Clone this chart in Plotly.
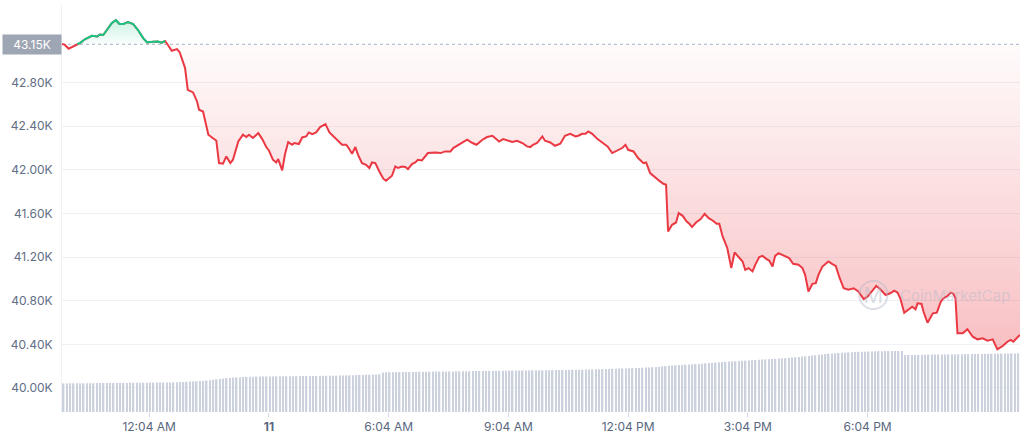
import plotly.graph_objects as go
import pandas as pd

# ---------------- data ----------------
START = "2024-01-10"
BASE_PRICE = 43150  # reference (open) price shown as dotted line

times = ["21:53","21:57","22:03","22:10","22:16","22:20","22:28","22:38","22:46","22:50",
"22:55","23:01","23:08","23:14","23:19","23:25","23:32","23:40","23:47","23:55",
"00:01","00:10","00:17","00:23","00:28","00:32","00:38","00:46","00:50","00:58",
"01:02","01:10","01:16","01:19","01:25","01:33","01:40","01:45","01:49","01:55",
"02:00","02:06","02:10","02:18","02:25","02:30","02:34","02:40","02:48",
"02:54","03:00","03:04","03:10","03:15","03:18","03:24","03:28","03:33","03:39",
"03:42","03:49","03:54","04:00","04:04","04:09","04:15","04:21","04:29","04:35",
"04:41","04:48","04:54","05:00","05:03","05:09","05:14","05:18","05:24","05:30",
"05:35","05:39","05:44","05:50","05:56","06:00","06:03","06:09","06:14","06:18",
"06:24","06:29","06:33","06:39","06:44","06:48","06:54","07:03","07:14","07:22",
"07:29","07:37","07:41",
"07:49","07:56","08:02","08:10","08:16","08:25","08:32","08:40","08:44","08:50",
"08:56","09:04","09:10","09:17","09:25","09:32","09:37","09:41","09:47","09:55",
"09:59","10:07","10:14","10:22","10:29","10:37","10:45","10:49","10:55","11:00",
"11:04","11:10","11:18","11:25","11:33","11:40","11:48","11:55","12:00","12:04",
"12:12","12:19","12:27","12:31",
"12:37","12:45","12:52","12:57","13:01","13:04","13:10","13:16","13:20","13:26",
"13:32","13:36","13:40","13:46","13:53","13:59","14:05","14:11","14:17","14:21",
"14:26","14:33","14:39","14:44","14:50","14:56","15:00","15:05","15:11","15:15",
"15:21","15:26","15:32","15:36","15:41","15:45","15:50","15:56","16:00","16:06",
"16:12","16:20","16:26","16:30","16:35","16:41","16:46","16:50","16:56","17:05",
"17:11","17:16","17:22","17:28",
"17:35","17:43","17:50","17:58","18:04","18:11","18:17","18:23","18:31","18:38",
"18:44","18:49","18:53","18:59","19:05","19:11","19:16","19:19","19:25","19:28",
"19:34","19:42","19:48","19:54","19:58","20:04","20:09","20:13","20:16","20:19",
"20:27","20:34","20:42","20:49","20:57","21:04","21:12","21:19","21:27","21:34",
"21:39","21:43","21:50","21:53"]

prices = [43152,43146,43109,43130,43152,43161,43198,43228,43222,43240,
43235,43283,43345,43372,43338,43335,43354,43335,43283,43207,
43167,43173,43176,43164,43180,43146,43091,43106,43075,42932,
42733,42709,42626,42550,42534,42321,42291,42266,42061,42055,
42122,42061,42092,42259,42321,42300,42321,42291,42336,
42281,42208,42177,42092,42067,42098,41994,42137,42254,42229,
42245,42236,42296,42305,42342,42327,42342,42391,42419,42342,
42305,42259,42229,42229,42208,42147,42208,42137,42061,42046,
42016,42067,42061,41984,41918,41899,41915,41945,42030,42016,
42030,42025,42006,42052,42067,42092,42085,42153,42159,42153,
42168,42168,42199,
42229,42259,42275,42245,42229,42275,42300,42312,42291,42259,
42281,42268,42254,42266,42245,42214,42208,42229,42245,42305,
42266,42250,42220,42238,42312,42330,42305,42312,42330,42330,
42351,42330,42281,42250,42214,42153,42177,42199,42229,42183,
42168,42107,42061,42067,
41970,41924,41893,41872,41863,41435,41496,41517,41603,41578,
41526,41505,41475,41517,41548,41597,41557,41535,41505,41505,
41389,41283,41099,41242,41205,41159,41083,41099,41068,41129,
41200,41211,41181,41168,41113,41211,41236,41220,41205,41190,
41138,41129,41099,41037,40884,40955,40961,41037,41113,41159,
41135,41119,41006,40914,
40900,40914,40884,40814,40838,40892,40935,40905,40852,40868,
40892,40874,40822,40690,40721,40745,40721,40776,40770,40699,
40598,40684,40690,40791,40822,40843,40874,40862,40822,40501,
40501,40538,40470,40446,40455,40434,40446,40354,40385,40424,
40440,40424,40470,40486]

# 5-minute volume bars (billions USD), one row per hour
volume = [
28.6,28.6,28.7,28.7,28.7,28.6,28.7,28.8,28.8,28.8,28.9,28.9,
28.9,29.0,29.0,29.0,29.1,29.1,29.0,29.1,29.2,29.2,29.2,29.3,
29.3,29.3,29.4,29.4,29.4,29.5,29.5,29.6,29.6,29.7,29.8,29.9,
30.0,30.2,30.4,30.6,30.8,31.0,31.2,31.5,31.8,32.2,32.6,33.0,
33.4,33.8,34.1,34.4,34.6,34.8,35.0,35.1,35.2,35.3,35.4,35.5,
35.5,35.5,35.6,35.6,35.6,35.7,35.7,35.7,35.8,35.8,35.8,35.9,
35.9,36.0,36.0,36.0,36.1,36.1,36.2,36.2,36.3,36.3,36.4,36.4,
36.5,36.6,36.7,36.8,36.9,37.0,37.1,37.2,37.3,37.4,37.5,37.6,
39.6,39.7,39.8,39.8,39.9,39.9,40.0,40.0,40.0,40.1,40.1,40.2,
40.2,40.3,40.3,40.4,40.4,40.5,40.5,40.5,40.6,40.6,40.7,40.7,
40.7,40.8,40.8,40.9,40.9,41.0,41.0,41.0,41.1,41.1,41.2,41.2,
41.2,41.3,41.3,41.4,41.4,41.5,41.5,41.5,41.6,41.6,41.7,41.7,
41.7,41.8,41.8,41.9,41.9,42.0,42.0,42.1,42.1,42.2,42.2,42.3,
42.3,42.4,42.5,42.6,42.7,42.8,42.9,43.0,43.1,43.2,43.3,43.4,
43.5,43.6,43.7,43.8,43.9,44.0,44.2,44.4,44.6,44.8,45.0,45.3,
45.6,45.9,46.2,46.5,46.7,46.9,47.1,47.3,47.5,47.7,47.9,48.1,
48.3,48.6,48.9,49.2,49.5,49.8,50.0,50.2,50.4,50.6,50.8,51.0,
51.2,51.4,51.6,51.8,52.0,52.2,52.4,52.6,52.8,53.0,53.2,53.4,
53.6,53.9,54.2,54.5,54.8,55.1,55.4,55.7,56.0,56.4,56.8,57.2,
57.6,58.0,58.3,58.6,58.8,59.0,59.2,59.4,59.6,59.8,60.0,60.2,
60.3,60.4,60.5,60.6,60.7,60.8,60.8,60.9,60.9,61.0,61.0,61.0,
61.0,57.0,57.0,57.1,57.1,57.2,57.2,57.3,57.3,57.4,57.4,57.5,
57.5,57.6,57.6,57.7,57.7,57.8,57.8,57.9,57.9,58.0,58.0,58.1,
58.1,58.2,58.2,58.3,58.3,58.4,58.4,58.5,58.5,58.6,58.6,58.7]

y_tick_vals = [40000, 40400, 40800, 41200, 41600, 42000, 42400, 42800]
y_tick_text = ["40.00K", "40.40K", "40.80K", "41.20K", "41.60K", "42.00K", "42.40K", "42.80K"]
x_tick_vals = ["2024-01-11 00:04", "2024-01-11 03:04", "2024-01-11 06:04", "2024-01-11 09:04",
               "2024-01-11 12:04", "2024-01-11 15:04", "2024-01-11 18:04"]
x_tick_text = ["12:04 AM", "<b>11</b>", "6:04 AM", "9:04 AM", "12:04 PM", "3:04 PM", "6:04 PM"]

assert len(times) == len(prices)

# ---------------- build timestamps ----------------
day = pd.Timestamp(START)
ts = []
prev = None
for t in times:
    hh, mm = map(int, t.split(":"))
    if prev is not None and (hh, mm) < prev:
        day = day + pd.Timedelta(days=1)
    prev = (hh, mm)
    ts.append(day + pd.Timedelta(hours=hh, minutes=mm))

x_start = ts[0]
x_end = x_start + pd.Timedelta(hours=24)
vol_x = [x_start + pd.Timedelta(minutes=5 * i + 2.5) for i in range(len(volume))]

below = [min(p, BASE_PRICE) for p in prices]
above = [max(p, BASE_PRICE) for p in prices]
green_line = [p if p >= BASE_PRICE - 3 else None for p in prices]

RED = "#ea3943"
GREEN = "#16c784"
WM = "rgba(176,184,200,0.45)"

fig = go.Figure()

# volume bars (secondary axis at the bottom)
fig.add_trace(go.Bar(x=vol_x, y=volume, yaxis="y2", marker=dict(color="#ccd2dd", line=dict(width=0)),
                     hoverinfo="skip", showlegend=False))

# baseline + red fill
fig.add_trace(go.Scatter(x=[x_start, x_end], y=[BASE_PRICE, BASE_PRICE], mode="lines",
                         line=dict(color="#a6b0c3", width=1, dash="dot"), hoverinfo="skip", showlegend=False))
fig.add_trace(go.Scatter(x=ts, y=below, mode="lines", line=dict(width=0), fill="tonexty",
                         fillgradient=dict(type="vertical",
                                           colorscale=[[0, "rgba(234,57,67,0.32)"], [1, "rgba(234,57,67,0.02)"]]),
                         hoverinfo="skip", showlegend=False))
# baseline again + green fill
fig.add_trace(go.Scatter(x=[x_start, x_end], y=[BASE_PRICE, BASE_PRICE], mode="lines",
                         line=dict(width=0), hoverinfo="skip", showlegend=False))
fig.add_trace(go.Scatter(x=ts, y=above, mode="lines", line=dict(width=0), fill="tonexty",
                         fillgradient=dict(type="vertical",
                                           colorscale=[[0, "rgba(22,199,132,0.02)"], [1, "rgba(22,199,132,0.22)"]]),
                         hoverinfo="skip", showlegend=False))

# price lines
fig.add_trace(go.Scatter(x=ts, y=prices, mode="lines", line=dict(color=RED, width=2),
                         showlegend=False))
fig.add_trace(go.Scatter(x=ts, y=green_line, mode="lines", line=dict(color=GREEN, width=2),
                         connectgaps=False, showlegend=False))

fig.update_layout(
    width=1024, height=441,
    margin=dict(l=62, r=4, t=5, b=29),
    paper_bgcolor="white", plot_bgcolor="white",
    font=dict(family="Inter, Roboto, sans-serif", color="#616e85", size=12),
    bargap=0.55,
    xaxis=dict(type="date", range=[x_start, x_end], showgrid=False, zeroline=False,
               tickvals=x_tick_vals, ticktext=x_tick_text, ticks="outside", ticklen=4,
               tickcolor="#cfd6e4", tickfont=dict(size=12, color="#58667e"), showline=False),
    yaxis=dict(range=[39780, 43510], tickvals=y_tick_vals, ticktext=y_tick_text,
               showgrid=True, gridcolor="#eff2f5", gridwidth=1, zeroline=False,
               showline=True, linecolor="#eff2f5", linewidth=1,
               tickfont=dict(size=12, color="#616e85"), ticklabelstandoff=6),
    yaxis2=dict(range=[0, 407], overlaying="y", visible=False, showgrid=False),
    hovermode=False,
)

# price label of the baseline
fig.add_annotation(xref="paper", x=0, yref="y", y=BASE_PRICE, xanchor="right", yanchor="middle",
                   text="43.15K", showarrow=False, bgcolor="#9ea5b3", width=52, height=13, align="center",
                   font=dict(color="white", size=12), borderpad=3)

# watermark (logo + name)
fig.add_annotation(xref="paper", x=0.9916, yref="y", y=40845, text="CoinMarketCap", showarrow=False,
                   font=dict(size=15, color=WM, family="Inter, sans-serif"),
                   xanchor="right", yanchor="middle")
fig.add_annotation(xref="paper", x=0.8466, yref="y", y=40850, text="Ⓜ", showarrow=False,
                   font=dict(size=22, color=WM),
                   xanchor="center", yanchor="middle")

# remove the default page margin so the figure sits at the window's top-left corner
fig.write_html("out.html", config={"displayModeBar": False},
               post_script="document.body.style.margin='0px';")
